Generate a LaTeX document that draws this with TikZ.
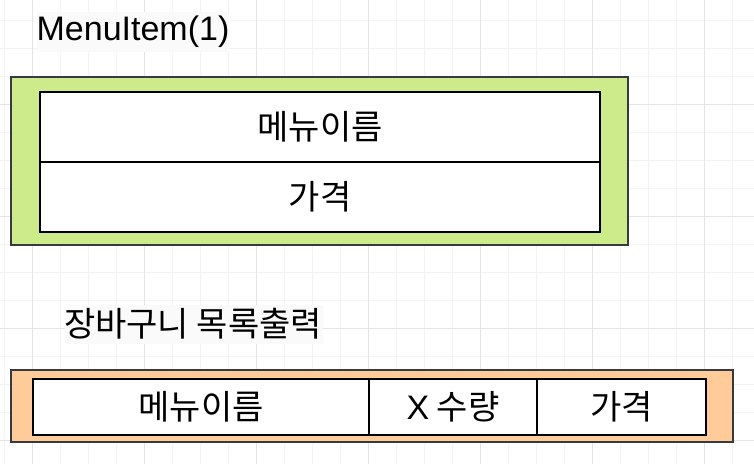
\documentclass[tikz,border=0pt]{standalone}
\usepackage{fontspec}
\setmainfont{Liberation Sans}
\newfontfamily\kr{Noto Sans CJK KR}
\definecolor{gridminor}{HTML}{F3F3F3}
\definecolor{gridmajor}{HTML}{E4E4E4}
\definecolor{greenfill}{HTML}{CDEB8B}
\definecolor{orangefill}{HTML}{FFCC99}
\definecolor{outerline}{HTML}{36393D}
\tikzset{
  outerbox/.style={draw=outerline, line width=2.2pt},
  cellbox/.style={draw=black, line width=2.2pt, fill=white},
  celltext/.style={font=\fontsize{34}{40}\selectfont\kr, anchor=center},
}
\begin{document}
\begin{tikzpicture}[x=1pt,y=-1pt]
\useasboundingbox (0,0) rectangle (754,464);
\fill[white] (0,0) rectangle (754,464);
% grid
\foreach \x in {4,32,...,760} \draw[gridminor, line width=0.8pt] (\x,0) -- (\x,464);
\foreach \y in {20,48,...,470} \draw[gridminor, line width=0.8pt] (0,\y) -- (754,\y);
\foreach \x in {32,144,...,760} \draw[gridmajor, line width=0.9pt] (\x,0) -- (\x,464);
\foreach \y in {104,216,...,470} \draw[gridmajor, line width=0.9pt] (0,\y) -- (754,\y);

% MenuItem(1)
\fill[white!98!black] (37,12) rectangle (229,52);
\node[anchor=center, font=\fontsize{34}{40}\selectfont] (title1) at (133,32) {MenuItem(1)};

\draw[outerbox, fill=greenfill] (11,77) rectangle (628,245);
\node[cellbox, minimum width=560pt, minimum height=70pt, anchor=north west, inner sep=0pt] (name1) at (39,91) {};
\node[cellbox, minimum width=560pt, minimum height=70pt, anchor=north west, inner sep=0pt] (price1) at (39,161) {};
\node[celltext] (name1t) at (name1.center) {메뉴이름};
\node[celltext] (price1t) at (price1.center) {가격};

% 장바구니 목록출력
\fill[white!98!black] (65,305) rectangle (323,344);
\node[anchor=center, font=\fontsize{34}{40}\selectfont\kr] (title2) at (193,324) {장바구니 목록출력};

\draw[outerbox, fill=orangefill] (11,370) rectangle (733,442);
\node[cellbox, minimum width=336pt, minimum height=56pt, anchor=north west, inner sep=0pt] (name2) at (32,378) {};
\node[cellbox, minimum width=168pt, minimum height=56pt, anchor=north west, inner sep=0pt] (qty2) at (368,378) {};
\node[cellbox, minimum width=169pt, minimum height=56pt, anchor=north west, inner sep=0pt] (price2) at (536,378) {};
\node[celltext] (name2t) at (name2.center) {메뉴이름};
\node[celltext] (qty2t) at (qty2.center) {{\fontsize{34}{40}\selectfont\rmfamily X} 수량};
\node[celltext] (price2t) at (price2.center) {가격};
\end{tikzpicture}
\end{document}
